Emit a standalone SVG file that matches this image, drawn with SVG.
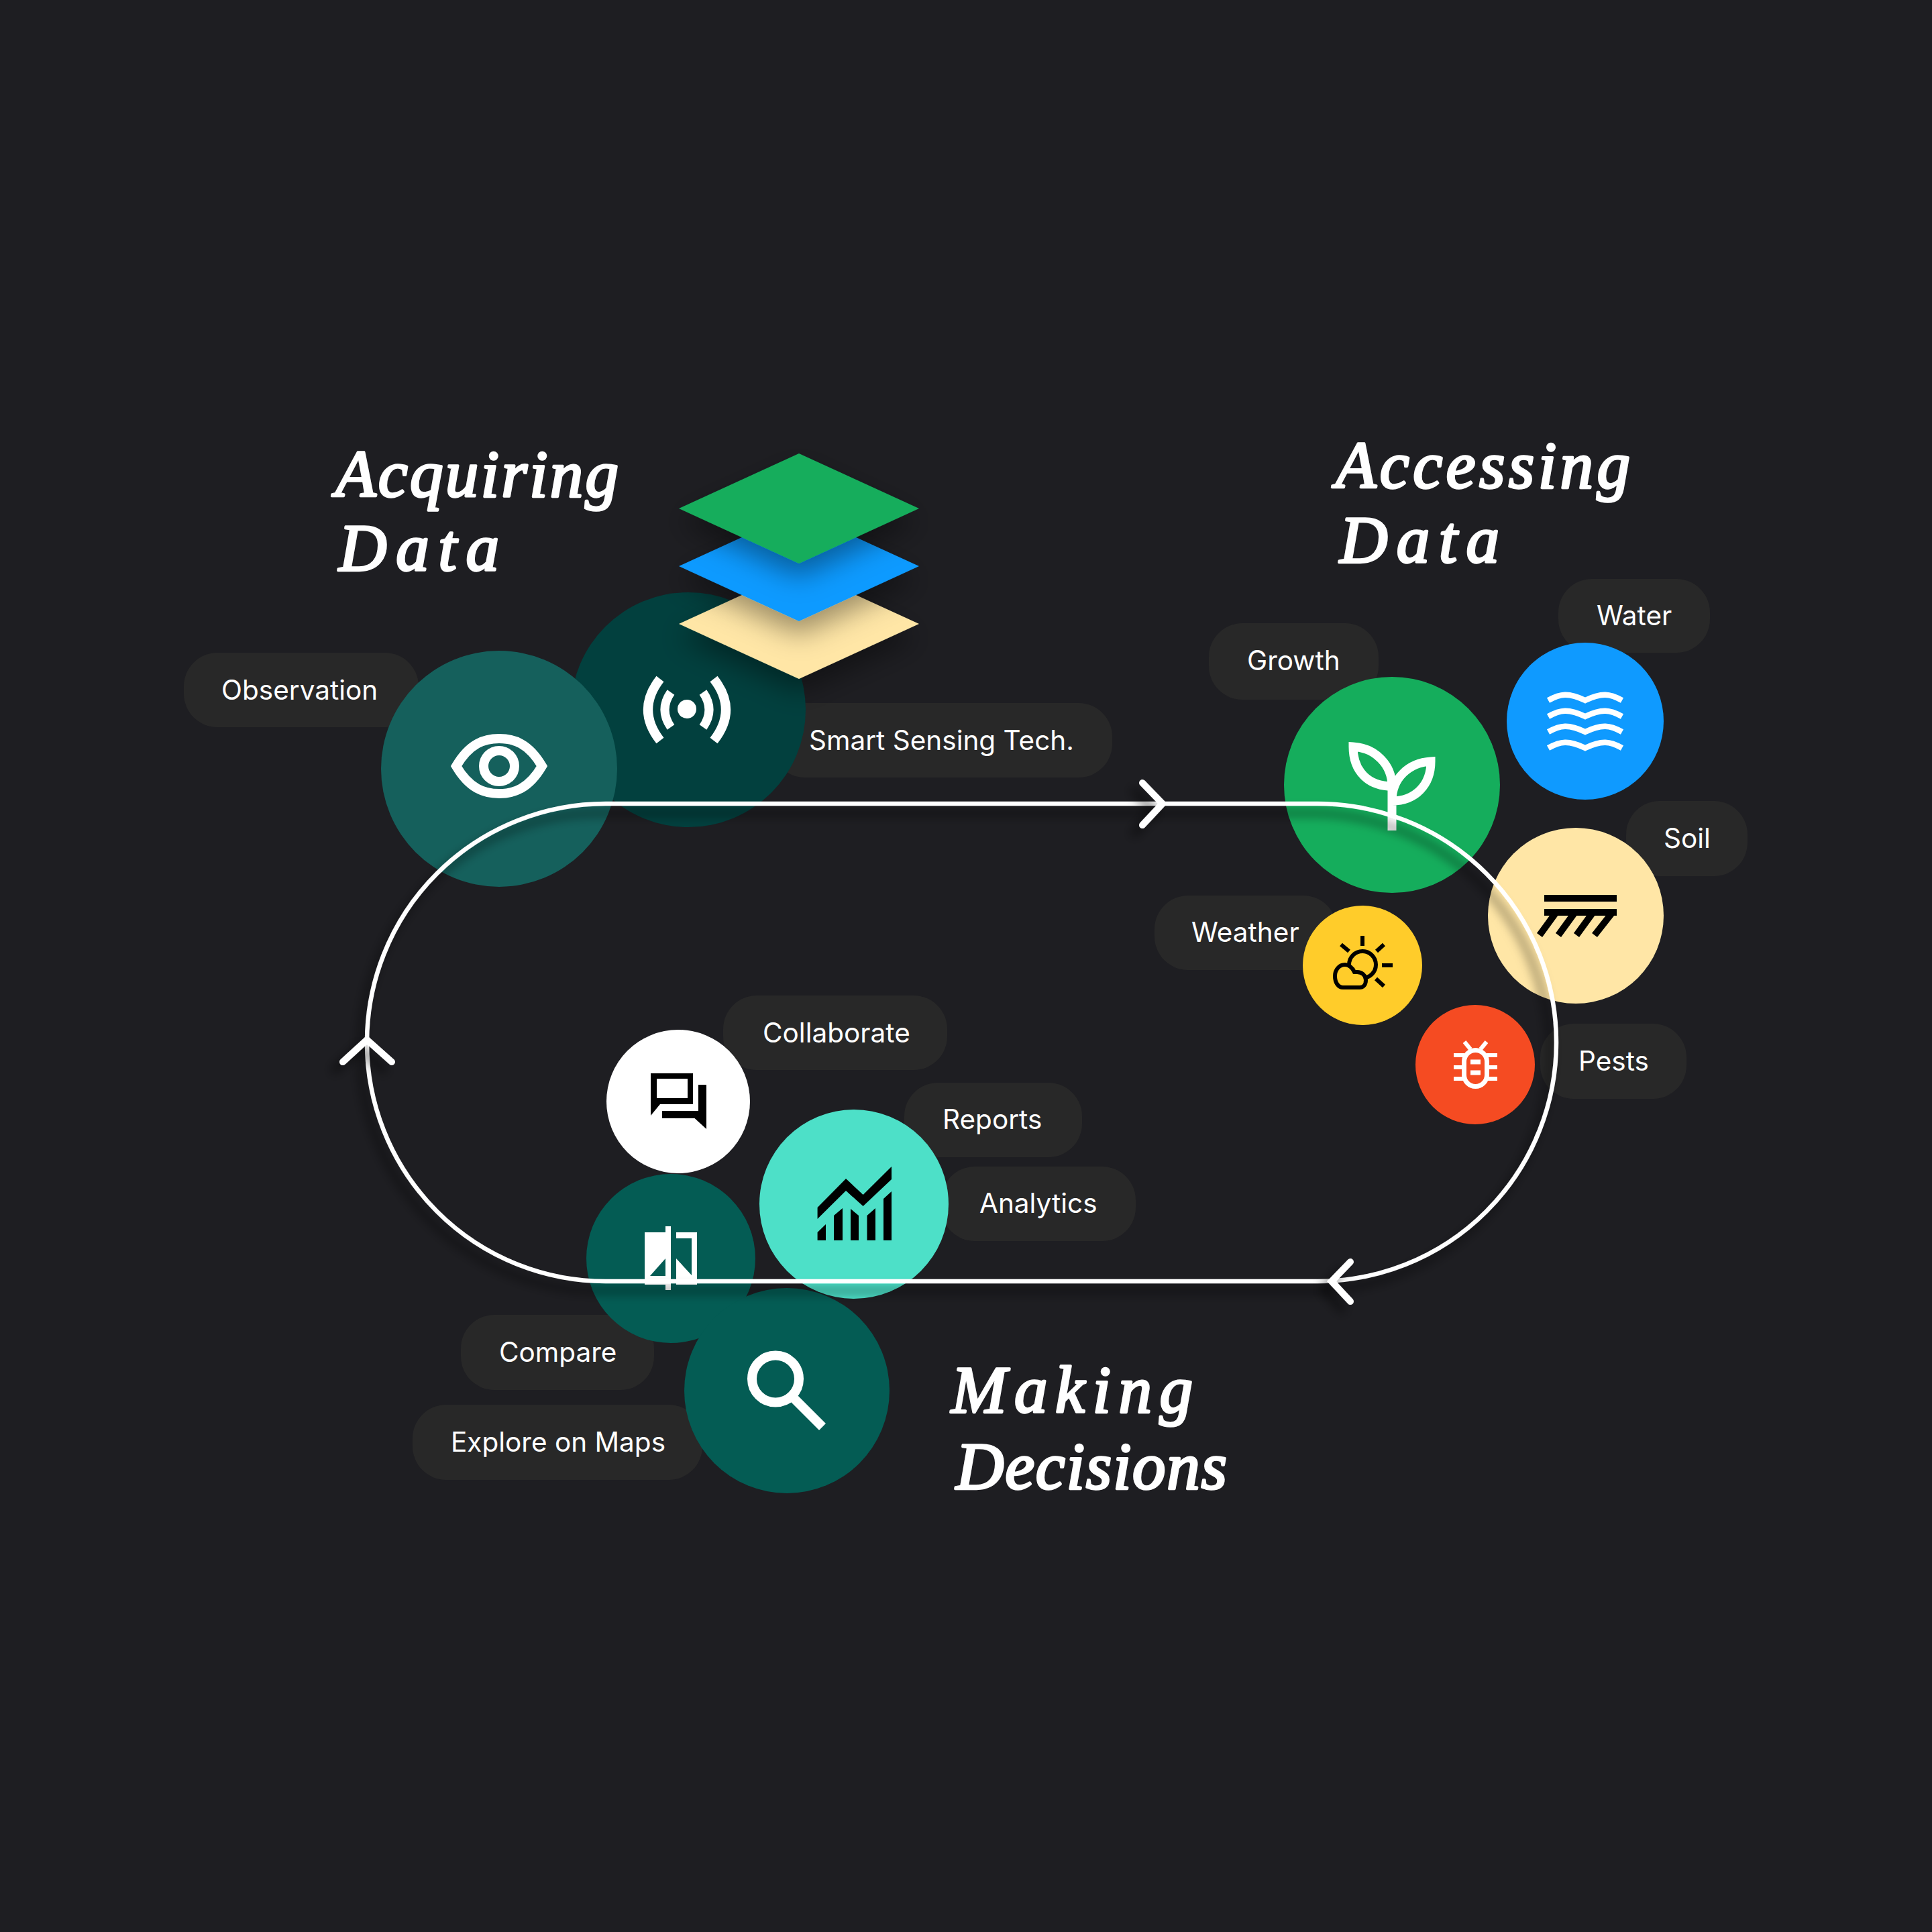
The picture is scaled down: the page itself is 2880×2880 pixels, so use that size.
<svg xmlns="http://www.w3.org/2000/svg" width="2880" height="2880" viewBox="0 0 2880 2880">
<style>
.pill{fill:#282828}
.lb{font-family:"Inter","Liberation Sans",sans-serif;font-size:40.5px;fill:#fff}
.ti{font-family:"Liberation Serif",serif;font-style:italic;font-size:99px;fill:#fff;stroke:#fff;stroke-width:3.5;stroke-linejoin:round}
.w{fill:none;stroke:#fff}
.k{fill:none;stroke:#000}
.line{fill:none;stroke:#fff;stroke-width:6.5;filter:url(#ls)}
.head{fill:none;stroke:#fff;stroke-width:10;stroke-linecap:round;stroke-linejoin:miter;filter:url(#hs)}
.dia{filter:url(#ds)}
</style>
<defs>
<filter id="ls" x="-10%" y="-10%" width="120%" height="125%"><feDropShadow dx="-10" dy="14" stdDeviation="8" flood-color="#000" flood-opacity=".6"/></filter>
<filter id="hs" x="-100%" y="-100%" width="300%" height="300%"><feDropShadow dx="-12" dy="12" stdDeviation="8" flood-color="#000" flood-opacity=".55"/></filter>
<filter id="ds" x="-30%" y="-30%" width="160%" height="170%"><feDropShadow dx="0" dy="20" stdDeviation="20" flood-color="#000" flood-opacity=".38"/></filter>
<path id="wave" d="M2308,4C2326,-6 2338,-8 2363,4C2388,-8 2400,-6 2418,4" fill="none" stroke="#fff" stroke-width="8.5"/>
</defs>
<rect width="2880" height="2880" fill="#1e1e22"/>
<g id="title-acquiring"><text class="ti" x="500" y="740" textLength="422" lengthAdjust="spacing">Acquiring</text><text class="ti" x="505" y="850" textLength="239" lengthAdjust="spacing">Data</text></g>
<g id="title-accessing"><text class="ti" x="1991" y="727" textLength="439" lengthAdjust="spacing">Accessing</text><text class="ti" x="1997" y="838" textLength="238" lengthAdjust="spacing">Data</text></g>
<g id="title-making"><text class="ti" x="1418" y="2105" textLength="360" lengthAdjust="spacing">Making</text><text class="ti" x="1425" y="2219" textLength="404" lengthAdjust="spacing">Decisions</text></g>

<g id="node-sensing">
<rect class="pill" x="1150" y="1048" width="508" height="111" rx="50"/>
<circle cx="1026" cy="1058" r="175" fill="#02403e"/>
<circle cx="1024" cy="1057" r="14" fill="#fff"/>
<path class="w" stroke-width="13" d="M1000,1032Q982,1058 1000,1084M1048,1032Q1066,1058 1048,1084"/>
<path class="w" stroke-width="14" d="M984,1012Q948,1058 984,1104M1064,1012Q1100,1058 1064,1104"/>
<text class="lb" x="1206" y="1118">Smart Sensing Tech.</text>
</g>
<g id="node-observation">
<rect class="pill" x="274" y="973" width="350" height="111" rx="50"/>
<circle cx="744" cy="1146" r="176" fill="#15605c"/>
<path class="w" stroke-width="14" d="M680,1142C700,1108 722,1101 744,1101C766,1101 788,1108 808,1142C788,1176 766,1183 744,1183C722,1183 700,1176 680,1142Z"/>
<circle class="w" stroke-width="14" cx="744" cy="1142" r="23"/>
<text class="lb" x="330" y="1043">Observation</text>
</g>
<g id="layers">
<polygon class="dia" points="1191,848 1370,930 1191,1012 1012,930" fill="#ffe6a6"/>
<polygon class="dia" points="1191,762 1370,844 1191,926 1012,844" fill="#0f9aff"/>
<polygon class="dia" points="1191,676 1370,758 1191,840 1012,758" fill="#15ad5c"/>
</g>

<g id="node-growth">
<rect class="pill" x="1802" y="929" width="253" height="114" rx="50"/>
<circle cx="2075" cy="1170" r="161" fill="#15ad5c"/>
<path class="w" stroke-width="13" d="M2017,1113C2050,1115 2075,1140 2075,1172C2040,1172 2017,1150 2017,1113ZM2133,1135C2100,1137 2075,1160 2075,1194C2110,1194 2133,1170 2133,1135ZM2075,1172V1238"/>
<text class="lb" x="1859" y="999">Growth</text>
</g>
<g id="node-water">
<rect class="pill" x="2323" y="863" width="226" height="110" rx="50"/>
<circle cx="2363" cy="1075" r="117" fill="#0f9aff"/>
<use href="#wave" y="1040"/><use href="#wave" y="1064"/><use href="#wave" y="1087"/><use href="#wave" y="1111"/>
<text class="lb" x="2380" y="932">Water</text>
</g>
<g id="node-soil">
<rect class="pill" x="2424" y="1194" width="181" height="112" rx="50"/>
<circle cx="2349" cy="1365" r="131" fill="#ffe6a6"/>
<path fill="#000" d="M2302,1334H2410V1344H2302ZM2302,1355H2410V1365H2302Z"/>
<path class="k" stroke-width="10" d="M2295,1394L2319,1361M2323,1394L2347,1361M2350,1394L2374,1361M2377,1394L2403,1361"/>
<text class="lb" x="2480" y="1264">Soil</text>
</g>
<g id="node-weather">
<rect class="pill" x="1721" y="1335" width="272" height="111" rx="50"/>
<circle cx="2031" cy="1439" r="89" fill="#ffcc2a"/>
<circle class="k" stroke-width="6" cx="2031" cy="1438" r="20"/>
<path class="k" stroke-width="6" d="M2031,1395V1410M2052,1418L2063,1408M2011,1418L1999,1408M2060,1439H2076M2051,1459L2063,1470"/>
<path fill="#ffcc2a" stroke="#000" stroke-width="6" d="M2002,1472H2027C2033,1472 2036,1467 2036,1461C2036,1454 2030,1449 2023,1449C2021,1449 2020,1449 2019,1449C2016,1442 2010,1438 2005,1438C1996,1438 1990,1446 1990,1455C1990,1465 1995,1472 2002,1472Z"/>
<text class="lb" x="1776" y="1404">Weather</text>
</g>
<g id="node-pests">
<rect class="pill" x="2296" y="1526" width="218" height="112" rx="50"/>
<circle cx="2199" cy="1587" r="89" fill="#f54b22"/>
<rect class="w" stroke-width="7" x="2182.5" y="1565.5" width="34" height="54" rx="17"/>
<path class="w" stroke-width="6" d="M2183,1553L2192,1564M2216,1553L2207,1564M2167,1573H2183M2167,1591H2183M2167,1608H2183M2216,1573H2232M2216,1591H2232M2216,1608H2232"/>
<path class="w" stroke-width="7" d="M2192,1583H2207M2192,1599H2207"/>
<text class="lb" x="2353" y="1596">Pests</text>
</g>

<g id="node-collaborate">
<rect class="pill" x="1078" y="1484" width="334" height="111" rx="50"/>
<circle cx="1011" cy="1642" r="107" fill="#fff"/>
<path fill="#000" fill-rule="evenodd" d="M970,1600H1033V1646H984L970,1663ZM979,1608V1637H1025V1608Z"/>
<path fill="#000" d="M1041,1617H1053V1683L1035.5,1667H987V1656H1041Z"/>
<text class="lb" x="1137" y="1554">Collaborate</text>
</g>
<g id="node-analytics">
<rect class="pill" x="1348" y="1614" width="265" height="111" rx="50"/>
<rect class="pill" x="1403" y="1739" width="290" height="111" rx="50"/>
<circle cx="1273" cy="1795" r="141" fill="#4de0c8"/>
<path fill="#000" d="M1218.6,1800L1261,1757L1286.6,1781L1329,1739V1758L1286.6,1798L1261,1775L1218.6,1817ZM1218.6,1849V1837L1231,1825V1849ZM1243,1849V1812L1256,1801V1849ZM1268,1849V1802L1280,1812V1849ZM1292.5,1849V1812L1305,1801V1849ZM1317,1849V1787L1329,1776V1849Z"/>
<text class="lb" x="1405" y="1683">Reports</text>
<text class="lb" x="1460" y="1808">Analytics</text>
</g>
<g id="node-compare">
<rect class="pill" x="687" y="1960" width="288" height="112" rx="50"/>
<circle cx="1000" cy="1876" r="126" fill="#045c54"/>
<path fill="#fff" fill-rule="evenodd" d="M961,1837H992V1915H961ZM969,1902H992V1876Z"/>
<rect x="992" y="1828" width="8" height="95" fill="#fff"/>
<path fill="#fff" fill-rule="evenodd" d="M1008,1837H1039V1915H1008ZM1008,1846V1876L1031,1901V1846Z"/>
<text class="lb" x="744" y="2030">Compare</text>
</g>
<g id="node-explore">
<rect class="pill" x="615" y="2094" width="432" height="112" rx="50"/>
<circle cx="1173" cy="2073" r="153" fill="#045c54"/>
<circle class="w" stroke-width="14" cx="1156" cy="2055.5" r="35"/>
<path class="w" stroke-width="14" d="M1181,2082L1226,2127"/>
<text class="lb" x="672" y="2164">Explore on Maps</text>
</g>

<g id="connectors">
<path class="line" d="M903,1198H1964A356,356 0 0 1 1964,1910H903A356,356 0 0 1 903,1198Z"/>
<path class="head" d="M1703,1167L1733,1198L1703,1230"/>
<path class="head" d="M2013,1881L1985,1910L2013,1940"/>
<path class="head" d="M511,1583L547,1550L584,1583"/>
</g>
</svg>
